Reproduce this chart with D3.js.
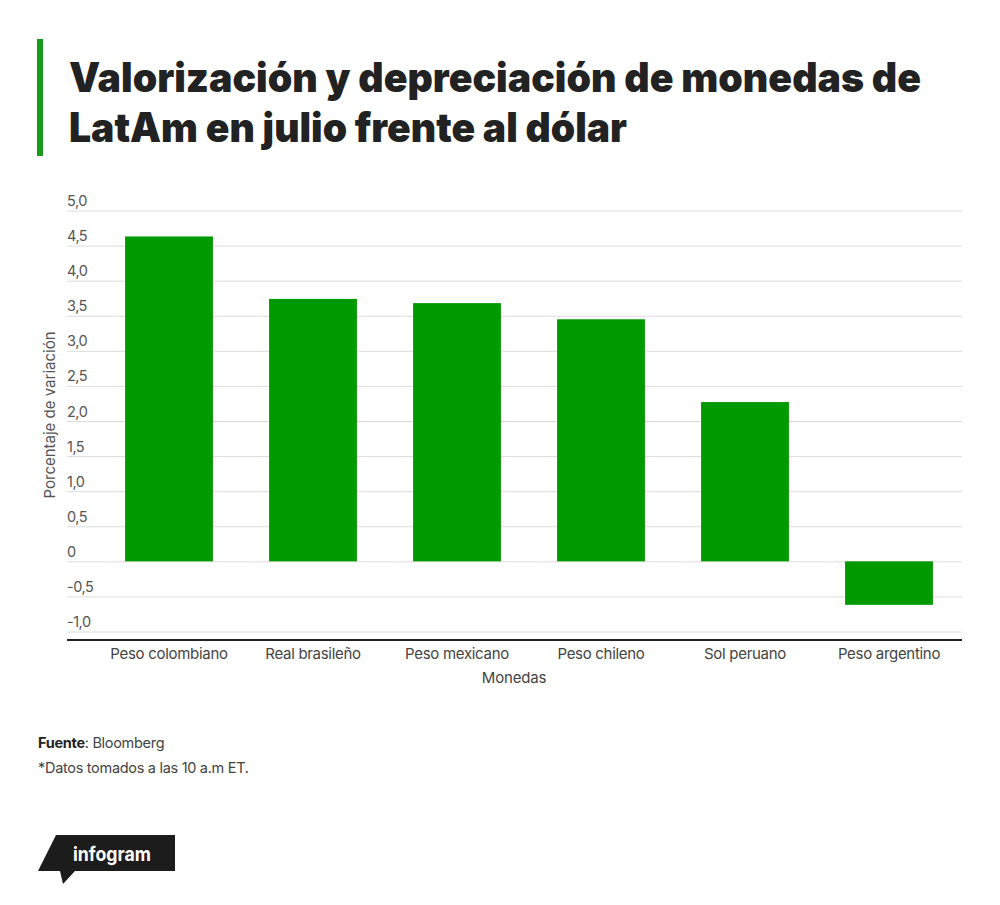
<!DOCTYPE html>
<html>
<head>
<meta charset="utf-8">
<script src="https://cdn.jsdelivr.net/npm/d3@7"></script>
<style>
body { margin: 0; background: #fff; }
text { font-family: Inter, "Noto Sans", sans-serif; }
</style>
</head>
<body>
<div id="chart"></div>
<script>
// Data
const monedas = ["Peso colombiano", "Real brasileño", "Peso mexicano", "Peso chileno", "Sol peruano", "Peso argentino"];
const variacion = [4.63, 3.74, 3.68, 3.45, 2.27, -0.62];
const yTicks = [-1, -0.5, 0, 0.5, 1, 1.5, 2, 2.5, 3, 3.5, 4, 4.5, 5];
const titleLines = ["Valorización y depreciación de monedas de", "LatAm en julio frente al dólar"];

const W = 1000, H = 905;
const plot = { left: 67, right: 962, top: 210.5, bottom: 631.5, axisY: 640 };

const svg = d3.select("#chart")
.append("svg")
.attr("width", W)
.attr("height", H);

// Title block
svg.append("rect")
.attr("x", 37).attr("y", 39)
.attr("width", 6).attr("height", 117)
.attr("fill", "#1a9a1a");

svg.append("g")
.selectAll("text")
.data(titleLines)
.enter()
.append("text")
.attr("x", 69)
.attr("y", (d, i) => 92 + i * 50)
.attr("font-size", 41)
.attr("font-weight", 900)
.attr("fill", "#222")
.attr("textLength", (d, i) => i === 0 ? 852 : 558)
.attr("lengthAdjust", "spacingAndGlyphs")
.text(d => d);

// Scales
const x = d3.scaleBand()
.domain(monedas)
.range([97, 961])
.paddingInner(0.39)
.paddingOuter(0.195);

const y = d3.scaleLinear()
.domain([-1, 5])
.range([plot.bottom, plot.top]);

const fmt = v => v === 0 ? "0" : d3.format(".1f")(v).replace(".", ",").replace("−", "-");

// Grid + y labels
const yAxis = svg.append("g")
.attr("transform", `translate(${plot.left},0)`)
.call(d3.axisRight(y).tickValues(yTicks).tickSize(plot.right - plot.left).tickFormat(fmt));

yAxis.select(".domain").remove();
yAxis.selectAll(".tick line").attr("stroke", "#dcdcdc").attr("stroke-width", 1);
yAxis.selectAll(".tick text")
.attr("x", 0)
.attr("dy", -5)
.attr("text-anchor", "start")
.attr("font-size", 14.5)
.attr("letter-spacing", -0.5)
.attr("fill", "#555");

// Bars
svg.selectAll(".bar")
.data(monedas)
.enter()
.append("rect")
.attr("class", "bar")
.attr("x", d => x(d))
.attr("width", x.bandwidth())
.attr("y", (d, i) => y(Math.max(0, variacion[i])))
.attr("height", (d, i) => Math.abs(y(variacion[i]) - y(0)))
.attr("fill", "#009900");

// X axis
const xAxis = svg.append("g")
.attr("transform", `translate(0,${plot.axisY})`)
.call(d3.axisBottom(x).tickSize(0).tickPadding(8));

xAxis.select(".domain")
.attr("d", `M${plot.left},0H${plot.right}`)
.attr("stroke", "#222")
.attr("stroke-width", 2);
xAxis.selectAll(".tick text")
.attr("font-size", 15)
.attr("letter-spacing", -0.3)
.attr("fill", "#444");

// Axis titles
svg.append("text")
.attr("x", 514).attr("y", 683)
.attr("text-anchor", "middle")
.attr("font-size", 15)
.attr("letter-spacing", -0.2)
.attr("fill", "#444")
.text("Monedas");

svg.append("text")
.attr("transform", "translate(55,415) rotate(-90)")
.attr("text-anchor", "middle")
.attr("font-size", 15)
.attr("letter-spacing", 0)
.attr("fill", "#555")
.text("Porcentaje de variación");

// Footer
const src = svg.append("text")
.attr("x", 38).attr("y", 748)
.attr("font-size", 14.5)
.attr("letter-spacing", -0.3)
.attr("fill", "#444");
src.append("tspan").attr("font-weight", 700).attr("fill", "#222").text("Fuente");
src.append("tspan").text(": Bloomberg");

svg.append("text")
.attr("x", 38).attr("y", 773)
.attr("font-size", 14.5)
.attr("letter-spacing", -0.3)
.attr("fill", "#444")
.text("*Datos tomados a las 10 a.m ET.");

// infogram badge
svg.append("path")
.attr("d", "M56,835H175V871H75L63,884L60,871H38Z")
.attr("fill", "#1c1c1c");

svg.append("text")
.attr("x", 73).attr("y", 861)
.attr("font-size", 20)
.attr("font-weight", 700)
.attr("fill", "#fff")
.attr("textLength", 78)
.attr("lengthAdjust", "spacingAndGlyphs")
.text("infogram");
</script>
</body>
</html>
